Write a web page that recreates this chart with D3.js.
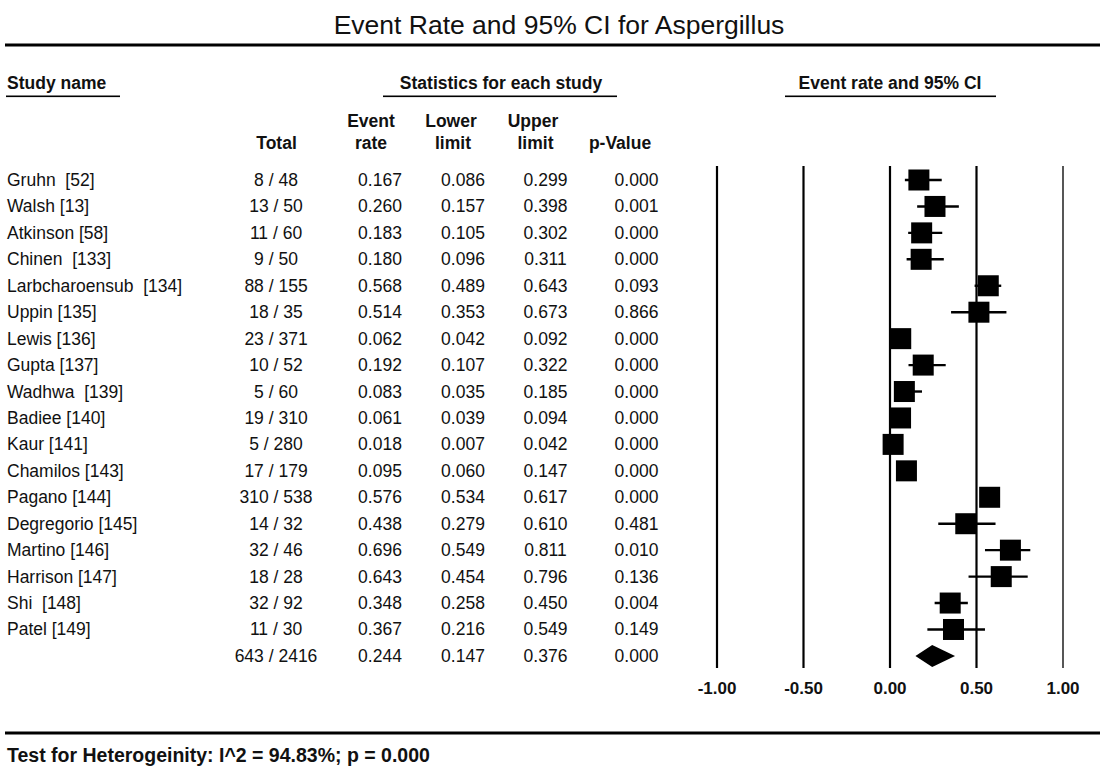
<!DOCTYPE html>
<html>
<head>
<meta charset="utf-8">
<script src="https://cdn.jsdelivr.net/npm/d3@7/dist/d3.min.js"></script>
<style>
  html, body { margin: 0; padding: 0; background: #fff; }
  svg { display: block; }
  text { font-family: Arial, "Liberation Sans", sans-serif; fill: #111; }
  .pre { white-space: pre; }
</style>
</head>
<body>
<svg id="chart" width="1100" height="767"></svg>
<script>
// Study rows of the forest plot
const studies = ["Gruhn  [52]", "Walsh [13]", "Atkinson [58]", "Chinen  [133]",
  "Larbcharoensub  [134]", "Uppin [135]", "Lewis [136]", "Gupta [137]",
  "Wadhwa  [139]", "Badiee [140]", "Kaur [141]", "Chamilos [143]",
  "Pagano [144]", "Degregorio [145]", "Martino [146]", "Harrison [147]",
  "Shi  [148]", "Patel [149]"];
const events = [8, 13, 11, 9, 88, 18, 23, 10, 5, 19, 5, 17, 310, 14, 32, 18, 32, 11];
const totals = [48, 50, 60, 50, 155, 35, 371, 52, 60, 310, 280, 179, 538, 32, 46, 28, 92, 30];
const eventRate = [0.167, 0.260, 0.183, 0.180, 0.568, 0.514, 0.062, 0.192, 0.083,
  0.061, 0.018, 0.095, 0.576, 0.438, 0.696, 0.643, 0.348, 0.367];
const lowerLimit = [0.086, 0.157, 0.105, 0.096, 0.489, 0.353, 0.042, 0.107, 0.035,
  0.039, 0.007, 0.060, 0.534, 0.279, 0.549, 0.454, 0.258, 0.216];
const upperLimit = [0.299, 0.398, 0.302, 0.311, 0.643, 0.673, 0.092, 0.322, 0.185,
  0.094, 0.042, 0.147, 0.617, 0.610, 0.811, 0.796, 0.450, 0.549];
const pValue = [0.000, 0.001, 0.000, 0.000, 0.093, 0.866, 0.000, 0.000, 0.000,
  0.000, 0.000, 0.000, 0.000, 0.481, 0.010, 0.136, 0.004, 0.149];

// Pooled estimate
const pooledEvents = 643, pooledTotal = 2416;
const pooledRate = 0.244, pooledLower = 0.147, pooledUpper = 0.376, pooledP = 0.000;

// Axis ticks and heterogeneity statistics
const tickValues = [-1.0, -0.5, 0.0, 0.5, 1.0];
const iSquared = 94.83, heteroP = 0.000;

const svg = d3.select("#chart");
const f3 = d3.format(".3f");
const f2 = d3.format(".2f");
// plain hyphen for negative tick labels
const fTick = v => f2(v).replace("\u2212", "-");

const x = d3.scaleLinear().domain([-1, 1]).range([717, 1063]);
const y = d3.scaleLinear().domain([0, 1]).range([180, 206.44]);

// Title and rules
svg.append("text").attr("x", 559).attr("y", 34).attr("text-anchor", "middle")
  .style("font-size", "26.5px").text("Event Rate and 95% CI for Aspergillus");
svg.append("rect").attr("x", 5).attr("y", 43.5).attr("width", 1095).attr("height", 3).attr("fill", "#000");
svg.append("rect").attr("x", 5).attr("y", 731.5).attr("width", 1095).attr("height", 3).attr("fill", "#000");

// Section headings with underlines
const bold = { "font-size": "17.5px", "font-weight": "bold" };
function label(xp, yp, txt, anchor, style) {
  const t = svg.append("text").attr("x", xp).attr("y", yp)
    .attr("text-anchor", anchor).text(txt);
  Object.entries(style).forEach(([k, v]) => t.style(k, v));
  return t;
}
label(7, 89, "Study name", "start", bold);
label(501, 89, "Statistics for each study", "middle", bold);
label(890, 89, "Event rate and 95% CI", "middle", bold);
[[6, 120], [383, 617], [785, 996]].forEach(([a, b]) => {
  svg.append("rect").attr("x", a).attr("y", 95.5).attr("width", b - a).attr("height", 1.6).attr("fill", "#000");
});

// Column headings
label(276.5, 149, "Total", "middle", bold);
label(371, 127, "Event", "middle", bold);
label(371, 149, "rate", "middle", bold);
label(451, 127, "Lower", "middle", bold);
label(453, 149, "limit", "middle", bold);
label(533, 127, "Upper", "middle", bold);
label(535.5, 149, "limit", "middle", bold);
label(620, 149, "p-Value", "middle", bold);

// Table values
const reg = { "font-size": "17.5px" };
const rows = studies.map((s, i) => ({
  name: s, ev: events[i], n: totals[i], rate: eventRate[i],
  lo: lowerLimit[i], hi: upperLimit[i], p: pValue[i], i
}));
const colCenters = { total: 276, rate: 380, lo: 463, hi: 545.5, p: 636.5 };

const rowG = svg.append("g").selectAll("g").data(rows).join("g")
  .attr("transform", d => `translate(0,${y(d.i) + 6})`);
rowG.append("text").attr("class", "pre").attr("x", 7).style("font-size", "17.5px").text(d => d.name);
rowG.append("text").attr("class", "pre").attr("x", colCenters.total).attr("text-anchor", "middle")
  .style("font-size", "17.5px").text(d => `${d.ev} / ${d.n}`);
rowG.append("text").attr("x", colCenters.rate).attr("text-anchor", "middle").style("font-size", "17.5px").text(d => f3(d.rate));
rowG.append("text").attr("x", colCenters.lo).attr("text-anchor", "middle").style("font-size", "17.5px").text(d => f3(d.lo));
rowG.append("text").attr("x", colCenters.hi).attr("text-anchor", "middle").style("font-size", "17.5px").text(d => f3(d.hi));
rowG.append("text").attr("x", colCenters.p).attr("text-anchor", "middle").style("font-size", "17.5px").text(d => f3(d.p));

// Pooled row
const py = y(studies.length);
label(colCenters.total, py + 6, `${pooledEvents} / ${pooledTotal}`, "middle", reg).attr("class", "pre");
label(colCenters.rate, py + 6, f3(pooledRate), "middle", reg);
label(colCenters.lo, py + 6, f3(pooledLower), "middle", reg);
label(colCenters.hi, py + 6, f3(pooledUpper), "middle", reg);
label(colCenters.p, py + 6, f3(pooledP), "middle", reg);

// Reference lines and tick labels
const lineTop = 166, lineBottom = 668;
svg.append("g").selectAll("line").data(tickValues).join("line")
  .attr("x1", d => x(d)).attr("x2", d => x(d))
  .attr("y1", lineTop).attr("y2", lineBottom)
  .attr("stroke", d => d === 1 ? "#444" : "#000")
  .attr("stroke-width", d => d === 1 ? 1.8 : 2.2);
svg.append("g").selectAll("text").data(tickValues).join("text")
  .attr("x", d => x(d)).attr("y", 694).attr("text-anchor", "middle")
  .style("font-size", "17px").style("font-weight", "bold")
  .text(d => fTick(d));

// Study markers: confidence interval whiskers and boxes
const box = 21;
const marks = svg.append("g");
marks.selectAll("line").data(rows).join("line")
  .attr("x1", d => x(d.lo)).attr("x2", d => x(d.hi))
  .attr("y1", d => y(d.i)).attr("y2", d => y(d.i))
  .attr("stroke", "#000").attr("stroke-width", 2.4);
marks.selectAll("rect").data(rows).join("rect")
  .attr("x", d => x(d.rate) - box / 2).attr("y", d => y(d.i) - box / 2)
  .attr("width", box).attr("height", box).attr("fill", "#000");

// Pooled diamond
svg.append("path")
  .attr("d", `M${x(pooledLower)},${py} L${x(pooledRate)},${py - 11} L${x(pooledUpper)},${py} L${x(pooledRate)},${py + 11} Z`)
  .attr("fill", "#000");

// Heterogeneity footer
label(7, 762, `Test for Heterogeinity: I^2 = ${f2(iSquared)}%; p = ${f3(heteroP)}`, "start",
  { "font-size": "19.5px", "font-weight": "bold" });
</script>
</body>
</html>
